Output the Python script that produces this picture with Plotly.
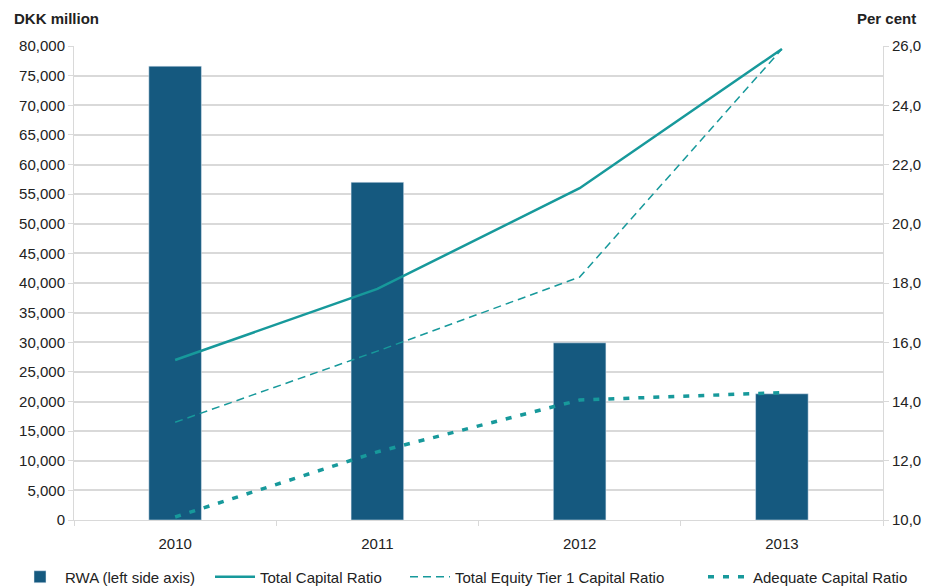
import plotly.graph_objects as go

years = ["2010", "2011", "2012", "2013"]
rwa = [76600, 57000, 29900, 21300]
total_capital = [15.4, 17.8, 21.2, 25.9]
tier1 = [13.3, 15.7, 18.2, 25.9]
adequate = [10.1, 12.3, 14.05, 14.3]

left_ticks = list(range(0, 80001, 5000))
right_ticks = [10, 12, 14, 16, 18, 20, 22, 24, 26]
right_labels = [f"{v:.1f}".replace(".", ",") for v in right_ticks]

bar_color = "#15597f"
line_color = "#17999b"
grid = "#d9d9d9"
font = "Liberation Sans, Arial, sans-serif"
txt = "#222222"

fig = go.Figure()
fig.add_trace(go.Bar(x=years, y=rwa, name="RWA (left side axis)", marker_color=bar_color,
                     width=0.26, yaxis="y", legend="legend"))
fig.add_trace(go.Scatter(x=years, y=total_capital, name="Total Capital Ratio", mode="lines",
                         line=dict(color=line_color, width=2.5), yaxis="y2", legend="legend2"))
fig.add_trace(go.Scatter(x=years, y=tier1, name="Total Equity Tier 1 Capital Ratio", mode="lines",
                         line=dict(color=line_color, width=1.5, dash="8px,5px"), yaxis="y2",
                         legend="legend3"))
fig.add_trace(go.Scatter(x=years, y=adequate, name="Adequate Capital Ratio", mode="lines",
                         line=dict(color=line_color, width=3.5, dash="6px,9px"), yaxis="y2",
                         legend="legend4"))


def leg(xpx):
    return dict(orientation="h", x=xpx / 928, xanchor="left", xref="container",
                y=10 / 587, yanchor="middle", yref="container",
                font=dict(size=15, color=txt), itemwidth=40, bgcolor="rgba(0,0,0,0)")


fig.update_layout(
    width=928, height=587,
    margin=dict(l=74, r=45, t=46, b=67, autoexpand=False),
    paper_bgcolor="white", plot_bgcolor="white",
    font=dict(family=font, size=15, color=txt),
    showlegend=True,
    legend=leg(15), legend2=leg(210), legend3=leg(405), legend4=leg(703),
    xaxis=dict(showline=True, linecolor=grid, ticks="outside", tickson="boundaries",
               ticklen=5, tickcolor=grid, showgrid=False, tickfont=dict(size=15),
               ticklabelstandoff=10),
    yaxis=dict(range=[0, 80000], tickvals=left_ticks, tickformat=",d", showgrid=True,
               gridcolor=grid, gridwidth=1.5, showline=True, linecolor=grid, ticks="outside",
               ticklen=5, tickcolor=grid, zeroline=False, tickfont=dict(size=15)),
    yaxis2=dict(range=[10, 26], overlaying="y", side="right", tickvals=right_ticks,
                ticktext=right_labels, showgrid=False, showline=True, linecolor=grid,
                ticks="outside", ticklen=5, tickcolor=grid, zeroline=False,
                tickfont=dict(size=15)),
    annotations=[
        dict(text="<b>DKK million</b>", xref="paper", yref="paper", x=-74 / 809 + 12 / 809,
             y=1 + 28 / 474, xanchor="left", yanchor="middle", showarrow=False,
             font=dict(size=15, color=txt)),
        dict(text="<b>Per cent</b>", xref="paper", yref="paper", x=1 + 35 / 809,
             y=1 + 28 / 474, xanchor="right", yanchor="middle", showarrow=False,
             font=dict(size=15, color=txt)),
    ],
)

fig.write_html("out.html")
